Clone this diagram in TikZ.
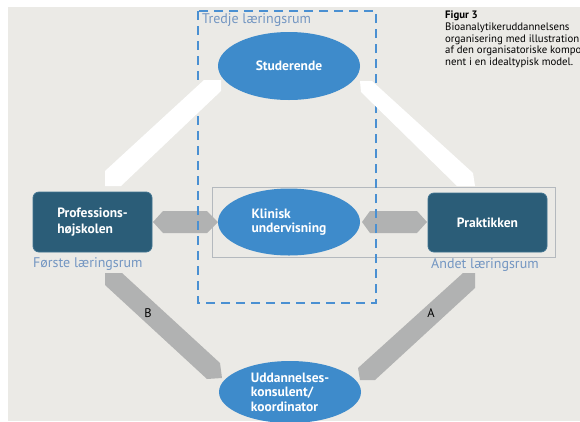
\documentclass[tikz,border=0pt]{standalone}
\usepackage{fontspec}
\setmainfont{PT Sans}
\usetikzlibrary{shapes.geometric}
\definecolor{bg}{HTML}{EBEAE6}
\definecolor{ellblue}{HTML}{3E8BCB}
\definecolor{boxteal}{HTML}{2B5D78}
\definecolor{boxedge}{HTML}{3F7390}
\definecolor{dashblue}{HTML}{4A90D2}
\definecolor{lblblue}{HTML}{7396C2}
\definecolor{arrowgray}{HTML}{B1B2B2}
\definecolor{framegray}{HTML}{B4B9BE}
\tikzset{
  ell/.style={ellipse, fill=ellblue, inner sep=0pt, text=white, font=\fontsize{13.5}{14.5}\selectfont\bfseries, align=left},
  darkbox/.style={rounded corners=6pt, fill=boxteal, draw=boxedge, line width=0.8pt, inner sep=0pt, text=white, font=\fontsize{13.5}{15.5}\selectfont\bfseries, align=left},
  roomlabel/.style={text=lblblue, font=\fontsize{14}{16}\selectfont, inner sep=0pt},
  band/.style={fill=white},
  grayband/.style={fill=arrowgray},
  letter/.style={font=\fontsize{12.5}{14}\selectfont, inner sep=0pt},
}
\begin{document}
\begin{tikzpicture}[x=1pt,y=-1pt]
\useasboundingbox (0,0) rectangle (580,421);
\fill[white] (0,0) rectangle (580,421);
\fill[bg] (8,7) rectangle (580,421);
\clip (0,0) rectangle (580,421);

% frame around the middle row
\node[draw=framegray, line width=0.7pt, minimum width=343pt, minimum height=70pt, inner sep=0pt] (frame) at (383.5,222) {};

% grey double-headed connectors in the middle row
\fill[grayband] (153,222) -- (163,211) -- (207,211) -- (218,222) -- (207,233) -- (163,233) -- cycle;
\fill[grayband] (362,222) -- (370,211) -- (417,211) -- (427,222) -- (417,233) -- (370,233) -- cycle;

% third learning space (dashed)
\draw[dashblue, line width=2.2pt, dash pattern=on 9pt off 6pt] (198,11) rectangle (376,303);
\node[roomlabel, anchor=west] (tredje) at (202,20) {Tredje læringsrum};

% white bands to Studerende
\fill[band] (105,171) -- (204,80) -- (221,80) -- (221,91) -- (121,186) -- (105,186) -- cycle;
\fill[band] (360,81) -- (372,81) -- (473,173) -- (475,186) -- (457,186) -- (361,92) -- cycle;

% grey bands to Uddannelseskonsulent
\fill[grayband] (105,273) -- (122,273) -- (220,363) -- (222,378) -- (207,379) -- (105,285) -- cycle;
\fill[grayband] (463,273) -- (475,273) -- (475,288) -- (375,380) -- (360,380) -- (358,368) -- cycle;
\node[letter] (lb) at (148,313) {B};
\node[letter] (la) at (431,313) {A};

% ellipses
\node[ell, minimum width=142pt, minimum height=68pt] (stu) at (289,66) {Studerende};
\node[ell, minimum width=142pt, minimum height=67pt] (kli) at (289,222) {Klinisk\\undervisning};
\node[ell, minimum width=142pt, minimum height=62pt] (udd) at (290,392) {Uddannelses-\\konsulent/\\koordinator};

% boxes
\node[darkbox, minimum width=119pt, minimum height=60pt] (ph) at (92.5,222) {Professions-\\højskolen};
\node[darkbox, minimum width=119pt, minimum height=59pt] (pr) at (487.5,222.5) {Praktikken};

\node[roomlabel, anchor=west] (forste) at (33,264) {Første læringsrum};
\node[roomlabel, anchor=west] (andet) at (431,265) {Andet læringsrum};

% caption
\node[anchor=north west, align=left, inner sep=0pt, font=\fontsize{10.8}{11.7}\selectfont] (cap) at (445,11)
  {\textbf{Figur 3}\\Bioanalytikeruddannelsens\\organisering med illustration\\af den organisatoriske kompo-\\nent i en idealtypisk model.};
\end{tikzpicture}
\end{document}
